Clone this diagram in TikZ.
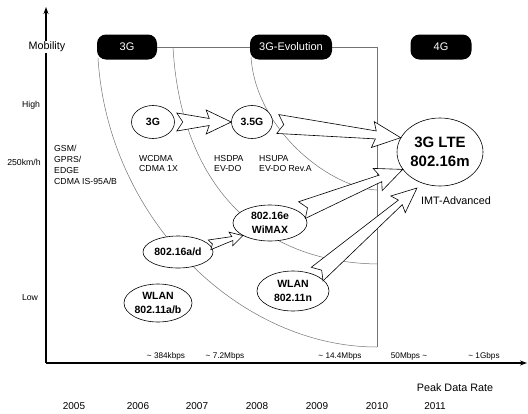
\documentclass[tikz,border=0pt]{standalone}
\usepackage{fontspec}
\setmainfont{Liberation Sans}
\usetikzlibrary{calc,arrows.meta,shapes.geometric}
% #1 tail, #2 tip, #3 tail half width, #4 neck half width, #5 barb half width,
% #6 head length, #7 barb distance from tip, #8 notch depth
\newcommand{\blkarrow}[8]{%
  \coordinate (ba-n) at ($(#2)!#6!(#1)$);
  \coordinate (ba-k) at ($(#2)!#7!(#1)$);
  \draw[blockarrow] ($(#1)!#3!90:(#2)$) -- ($(ba-n)!#4!-90:(#1)$) -- ($(ba-k)!#5!-90:(#1)$) -- (#2)
     -- ($(ba-k)!#5!90:(#1)$) -- ($(ba-n)!#4!90:(#1)$) -- ($(#1)!#3!-90:(#2)$) -- ($(#1)!#8!(#2)$) -- cycle;
}
\tikzset{
  gridline/.style={draw=black!55, line width=0.5pt},
  axisline/.style={line width=1.2pt, -{Stealth[length=7pt,width=5pt]}},
  pill/.style={fill=black, text=white, rounded corners=9pt, minimum height=25pt, inner sep=0pt, font=\fontsize{11}{13}\selectfont},
  tech/.style={ellipse, draw, fill=white, line width=0.6pt, inner sep=0pt, font=\bfseries\fontsize{10.5}{13.5}\selectfont, align=center},
  small/.style={font=\fontsize{8.7}{10.8}\selectfont, align=left, inner sep=0pt},
  rate/.style={font=\fontsize{8.2}{10}\selectfont, inner sep=0pt},
  year/.style={font=\fontsize{10}{12}\selectfont, inner sep=0pt},
  axlab/.style={font=\fontsize{10.8}{13}\selectfont, inner sep=1pt},
  blockarrow/.style={draw, fill=white, line width=0.6pt, line join=miter},
}
\begin{document}
\begin{tikzpicture}[x=1pt,y=-1pt]
\useasboundingbox (0,0) rectangle (528,413);
% axes
\coordinate (origin) at (46,363);
\coordinate (ytip) at (46,7);
\coordinate (xtip) at (527,363);
\draw[axisline] (origin) -- (ytip);
\draw[axisline, line width=1.4pt] (origin) -- (xtip);
\node[axlab, fill=white] (mob) at (47,47) {Mobility};
\node[small, anchor=center] (high) at (31,105) {High};
\node[small, anchor=center] (kmh) at (24,162) {250km/h};
\node[small, anchor=center] (low) at (30,298) {Low};
\node[axlab] (pdr) at (455,388) {Peak Data Rate};
% generation pills
\node[pill, minimum width=60pt] (p3g) at (127,47) {3G};
\node[pill, minimum width=82pt] (pevo) at (291,47) {3G-Evolution};
\node[pill, minimum width=61pt] (p4g) at (441,47) {4G};
\coordinate (vtop) at (377,47);
\coordinate (vbot) at (377,347);
\coordinate (vmid) at (377,264);
\coordinate (vhi) at (377,190);
\draw[gridline] (p3g.east) -- (pevo.west);
\draw[gridline] (pevo.east) -- (vtop) -- (vbot);
% region boundaries
\draw[gridline] (98,58) .. controls (108,220) and (240,347) .. (vbot);
\draw[gridline] (173,47) .. controls (180,175) and (250,262) .. (vmid);
\draw[gridline] (251,57) .. controls (256,130) and (330,188) .. (vhi);
% technologies
\node[tech, minimum width=43pt, minimum height=33pt] (c3g) at (153,122) {3G};
\node[tech, minimum width=41pt, minimum height=33pt] (c35g) at (252,122) {3.5G};
\node[tech, minimum width=86pt, minimum height=68pt, font=\bfseries\fontsize{15}{19}\selectfont] (clte) at (440,152) {3G LTE\\802.16m};
\node[tech, minimum width=74pt, minimum height=36pt] (cwimax) at (270,223) {802.16e\\WiMAX};
\node[tech, minimum width=70pt, minimum height=32pt] (c16ad) at (178,252) {802.16a/d};
\node[tech, minimum width=68pt, minimum height=38pt] (cwlanab) at (158,303) {WLAN\\802.11a/b};
\node[tech, minimum width=72pt, minimum height=40pt] (cwlann) at (293,291) {WLAN\\802.11n};
% texts
\node[small, anchor=west] (gsm) at (54,165) {GSM/\\GPRS/\\EDGE\\CDMA IS-95A/B};
\node[small, anchor=west] (wcdma) at (139,163.5) {WCDMA\\CDMA 1X};
\node[small, anchor=west] (hsdpa) at (214,163.5) {HSDPA\\EV-DO};
\node[small, anchor=west] (hsupa) at (259,163.5) {HSUPA\\EV-DO Rev.A};
\node[axlab, anchor=west, inner sep=0pt] (imt) at (421,201) {IMT-Advanced};
% rates
\node[rate] (r1) at (166,356) {\textasciitilde{} 384kbps};
\node[rate] (r2) at (225,356) {\textasciitilde{} 7.2Mbps};
\node[rate] (r3) at (340,356) {\textasciitilde{} 14.4Mbps};
\node[rate] (r4) at (409,356) {50Mbps \textasciitilde};
\node[rate] (r5) at (484,356) {\textasciitilde{} 1Gbps};
% years
\node[year] (y05) at (74,406) {2005};
\node[year] (y06) at (138,406) {2006};
\node[year] (y07) at (197,406) {2007};
\node[year] (y08) at (257,406) {2008};
\node[year] (y09) at (317,406) {2009};
\node[year] (y10) at (377,406) {2010};
\node[year] (y11) at (435,406) {2011};
% evolution arrows
\coordinate (a1s) at ($(c3g.east)+(2,0)$);
\coordinate (a1e) at (c35g.west);
\blkarrow{a1s}{a1e}{9pt}{3.5pt}{12pt}{22pt}{25pt}{6pt}
\coordinate (a2s) at ($(c35g.east)+(5,2)$);
\coordinate (a2e) at (clte.160);
\blkarrow{a2s}{a2e}{9.5pt}{4pt}{13pt}{25pt}{28pt}{6pt}
\coordinate (a3s) at ($(cwimax.20)+(2,-2)$);
\coordinate (a3e) at (clte.205);
\blkarrow{a3s}{a3e}{9pt}{3.5pt}{12pt}{24pt}{27pt}{6pt}
\coordinate (a4s) at ($(cwlann.40)+(4,0)$);
\coordinate (a4e) at ($(clte.235)+(-2,6)$);
\blkarrow{a4s}{a4e}{9pt}{3pt}{11pt}{22pt}{25pt}{6pt}
\coordinate (a5s) at ($(c16ad.15)+(1,1)$);
\coordinate (a5e) at (cwimax.205);
\blkarrow{a5s}{a5e}{5pt}{2pt}{7pt}{11pt}{12.5pt}{3pt}
\end{tikzpicture}
\end{document}
